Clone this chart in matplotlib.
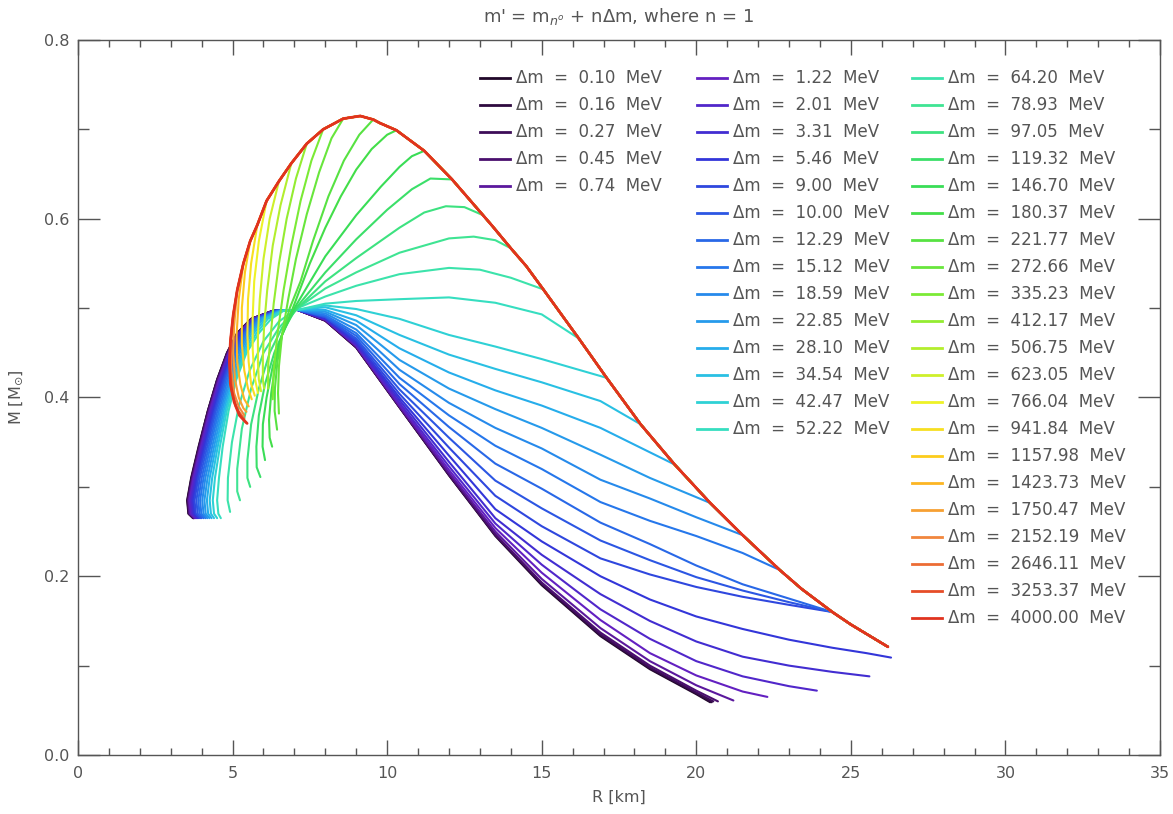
import matplotlib
matplotlib.use("Agg")
import matplotlib.pyplot as plt
from matplotlib.colors import LinearSegmentedColormap
from matplotlib.ticker import MultipleLocator

# mass splittings (MeV), one curve each
DM = [0.10, 0.16, 0.27, 0.45, 0.74, 1.22, 2.01, 3.31, 5.46, 9.00,
      10.00, 12.29, 15.12, 18.59, 22.85, 28.10, 34.54, 42.47, 52.22, 64.20,
      78.93, 97.05, 119.32, 146.70, 180.37, 221.77, 272.66, 335.23, 412.17, 506.75,
      623.05, 766.04, 941.84, 1157.98, 1423.73, 1750.47, 2152.19, 2646.11, 3253.37, 4000.00]

# envelope curve (largest splitting), starting at the low-density end
ENV_R = [26.2, 25.0, 24.4, 23.4, 22.7, 21.5, 20.45, 19.3, 18.2, 17.1,
         16.2, 15.05, 14.5, 14.0, 13.4, 13.1, 12.6, 12.1, 11.2, 10.3,
         9.77, 9.55, 9.13, 8.58, 7.93, 7.4, 6.9, 6.5, 6.1, 5.8,
         5.57, 5.35, 5.15, 5.02, 4.93, 4.9, 4.93, 5.05, 5.22, 5.47]
ENV_M = [0.121, 0.146, 0.160, 0.186, 0.207, 0.246, 0.282, 0.325, 0.370, 0.422,
         0.466, 0.521, 0.547, 0.567, 0.592, 0.604, 0.624, 0.644, 0.676, 0.699,
         0.707, 0.711, 0.715, 0.712, 0.700, 0.684, 0.662, 0.642, 0.620, 0.593,
         0.575, 0.550, 0.520, 0.492, 0.463, 0.440, 0.415, 0.395, 0.380, 0.371]

# index of the envelope point where each curve leaves it (None: never on it)
SPLIT = [None] * 9 + [2, 2, 2, 4, 5, 6, 7, 8, 9, 10,
                      11, 13, 15, 17, 18, 19, 21, 23, 24, 25,
                      26, 27, 28, 29, 30, 31, 32, 33, 34, 35, 39]

# low-density ends of the curves that never touch the envelope
LOW_END_R = [20.45, 20.5, 20.55, 20.7, 21.2, 22.3, 23.9, 25.6, 26.3]
LOW_END_M = [0.059, 0.059, 0.060, 0.060, 0.061, 0.065, 0.072, 0.088, 0.109]

# radius columns of the outer branch, and M there for the first 19 curves
COL_R = [25.5, 24.4, 23.0, 21.5, 20.0, 18.5, 16.9, 15.0, 13.5, 12.0, 10.4, 9.0, 8.0]
LOW_M = [
    [None, None, None, None, 0.068, 0.096, 0.133, 0.190, 0.245, 0.313, 0.389, 0.456, 0.486],
    [None, None, None, None, 0.069, 0.097, 0.134, 0.191, 0.246, 0.313, 0.389, 0.456, 0.486],
    [None, None, None, None, 0.070, 0.098, 0.135, 0.192, 0.246, 0.314, 0.389, 0.456, 0.486],
    [None, None, None, None, 0.072, 0.100, 0.137, 0.193, 0.247, 0.314, 0.390, 0.457, 0.486],
    [None, None, None, None, 0.078, 0.105, 0.142, 0.197, 0.250, 0.316, 0.390, 0.457, 0.487],
    [None, None, None, 0.071, 0.089, 0.114, 0.151, 0.204, 0.254, 0.319, 0.392, 0.458, 0.487],
    [None, None, 0.077, 0.088, 0.105, 0.130, 0.163, 0.213, 0.259, 0.323, 0.394, 0.459, 0.488],
    [None, 0.093, 0.100, 0.110, 0.127, 0.150, 0.180, 0.224, 0.265, 0.328, 0.397, 0.460, 0.488],
    [0.114, 0.120, 0.129, 0.141, 0.155, 0.174, 0.200, 0.239, 0.275, 0.335, 0.400, 0.462, 0.489],
    [None, None, 0.168, 0.177, 0.188, 0.202, 0.220, 0.256, 0.290, 0.344, 0.404, 0.464, 0.490],
    [None, None, 0.171, 0.184, 0.199, 0.218, 0.240, 0.276, 0.307, 0.355, 0.409, 0.466, 0.490],
    [None, None, 0.175, 0.191, 0.212, 0.236, 0.260, 0.298, 0.326, 0.367, 0.415, 0.469, 0.491],
    [None, None, None, 0.226, 0.245, 0.262, 0.283, 0.320, 0.346, 0.380, 0.422, 0.472, 0.492],
    [None, None, None, None, 0.266, 0.287, 0.308, 0.343, 0.366, 0.394, 0.431, 0.476, 0.494],
    [None, None, None, None, None, 0.310, 0.336, 0.366, 0.387, 0.410, 0.442, 0.481, 0.496],
    [None, None, None, None, None, None, 0.366, 0.391, 0.408, 0.428, 0.455, 0.486, 0.498],
    [None, None, None, None, None, None, 0.396, 0.417, 0.432, 0.448, 0.470, 0.492, 0.501],
    [None, None, None, None, None, None, None, 0.443, 0.457, 0.470, 0.488, 0.499, 0.503],
    [None, None, None, None, None, None, None, 0.493, 0.506, 0.512, 0.510, 0.508, 0.505],
]

# crossing point of the low-splitting curves
CROSS_R, CROSS_M = 7.1, 0.498

# inner (high-density) branch of the first 19 curves: R at fixed M levels
TURN_M = [0.497, 0.488, 0.472, 0.450, 0.420, 0.385, 0.345, 0.310, 0.285, 0.270, 0.265]
TURN_R = [
    [6.30, 5.60, 5.15, 4.82, 4.50, 4.20, 3.90, 3.66, 3.53, 3.57, 3.72],
    [6.30, 5.60, 5.15, 4.82, 4.50, 4.20, 3.91, 3.67, 3.54, 3.58, 3.73],
    [6.30, 5.61, 5.16, 4.83, 4.51, 4.21, 3.92, 3.68, 3.55, 3.59, 3.74],
    [6.31, 5.62, 5.17, 4.84, 4.52, 4.22, 3.93, 3.69, 3.56, 3.60, 3.75],
    [6.32, 5.63, 5.19, 4.86, 4.54, 4.24, 3.95, 3.71, 3.58, 3.62, 3.77],
    [6.33, 5.65, 5.21, 4.88, 4.57, 4.27, 3.98, 3.74, 3.61, 3.65, 3.80],
    [6.34, 5.67, 5.23, 4.90, 4.60, 4.30, 4.01, 3.77, 3.65, 3.69, 3.83],
    [6.35, 5.69, 5.26, 4.93, 4.63, 4.34, 4.05, 3.81, 3.69, 3.73, 3.87],
    [6.37, 5.71, 5.29, 4.96, 4.67, 4.38, 4.09, 3.85, 3.73, 3.77, 3.91],
    [6.39, 5.74, 5.32, 5.00, 4.71, 4.42, 4.13, 3.89, 3.77, 3.81, 3.95],
    [6.41, 5.77, 5.36, 5.04, 4.75, 4.46, 4.18, 3.94, 3.83, 3.87, 4.00],
    [6.43, 5.80, 5.40, 5.08, 4.79, 4.51, 4.23, 4.00, 3.89, 3.93, 4.06],
    [6.46, 5.84, 5.45, 5.13, 4.84, 4.56, 4.28, 4.06, 3.95, 3.99, 4.12],
    [6.49, 5.88, 5.50, 5.18, 4.89, 4.61, 4.34, 4.12, 4.02, 4.06, 4.18],
    [6.52, 5.93, 5.56, 5.24, 4.94, 4.66, 4.40, 4.19, 4.09, 4.13, 4.25],
    [6.55, 5.99, 5.62, 5.30, 4.99, 4.71, 4.46, 4.26, 4.17, 4.21, 4.32],
    [6.58, 6.06, 5.69, 5.35, 5.04, 4.76, 4.52, 4.34, 4.26, 4.30, 4.40],
    [6.61, 6.14, 5.77, 5.40, 5.08, 4.81, 4.59, 4.43, 4.36, 4.40, 4.50],
    [6.65, 6.25, 5.85, 5.45, 5.12, 4.87, 4.68, 4.56, 4.50, 4.54, 4.62],
]

# curves 64.20 ... 3253.37 MeV after they leave the envelope
HIGH_R = [
    [14.0, 13.0, 12.0, 10.4, 9.0, 8.0, 7.1, 6.5, 6.0, 5.55, 5.2, 4.98, 4.85, 4.84, 4.92],
    [13.5, 12.8, 12.0, 10.4, 9.0, 8.0, 7.1, 6.5, 6.0, 5.6, 5.3, 5.15, 5.15, 5.24],
    [12.5, 11.9, 11.2, 10.4, 9.0, 8.0, 7.1, 6.6, 6.2, 5.85, 5.6, 5.48, 5.48, 5.57],
    [11.4, 10.8, 10.0, 9.0, 8.0, 7.05, 6.7, 6.35, 6.05, 5.85, 5.77, 5.78, 5.9],
    [10.8, 10.4, 9.8, 9.0, 8.0, 7.0, 6.6, 6.3, 6.1, 5.98, 5.97, 6.05],
    [10.0, 9.5, 9.0, 8.5, 8.0, 7.5, 6.95, 6.6, 6.4, 6.25, 6.18, 6.2, 6.28],
    [9.1, 8.6, 8.1, 7.6, 7.2, 6.85, 6.6, 6.45, 6.37, 6.36, 6.44],
    [8.2, 7.8, 7.4, 7.05, 6.8, 6.6, 6.5, 6.47, 6.5],
    [7.55, 7.2, 6.9, 6.65, 6.45, 6.33, 6.3],
    [7.05, 6.75, 6.5, 6.33, 6.22, 6.15, 6.15],
    [6.55, 6.3, 6.12, 6.02, 5.98, 5.98, 6.02],
    [6.2, 6.0, 5.88, 5.82, 5.82, 5.85, 5.92],
    [5.85, 5.7, 5.65, 5.65, 5.7, 5.82],
    [5.6, 5.5, 5.48, 5.52, 5.6, 5.72],
    [5.4, 5.3, 5.3, 5.38, 5.5, 5.62],
    [5.2, 5.13, 5.15, 5.25, 5.38, 5.52],
    [5.05, 5.02, 5.08, 5.2, 5.35, 5.45],
    [4.96, 4.96, 5.05, 5.2, 5.38],
    [4.92, 5.0, 5.15, 5.38],
    [4.95, 5.1, 5.28, 5.43],
]
HIGH_M = [
    [0.534, 0.543, 0.545, 0.538, 0.525, 0.513, 0.500, 0.485, 0.463, 0.430, 0.390, 0.350, 0.310, 0.285, 0.272],
    [0.576, 0.580, 0.578, 0.562, 0.540, 0.522, 0.500, 0.478, 0.450, 0.410, 0.365, 0.320, 0.295, 0.285],
    [0.613, 0.614, 0.607, 0.590, 0.556, 0.530, 0.500, 0.478, 0.450, 0.410, 0.370, 0.330, 0.310, 0.300],
    [0.645, 0.633, 0.610, 0.577, 0.540, 0.500, 0.478, 0.450, 0.415, 0.380, 0.345, 0.322, 0.311],
    [0.670, 0.658, 0.636, 0.604, 0.558, 0.500, 0.470, 0.435, 0.400, 0.370, 0.345, 0.330],
    [0.694, 0.678, 0.655, 0.625, 0.590, 0.550, 0.500, 0.470, 0.440, 0.405, 0.375, 0.355, 0.345],
    [0.694, 0.665, 0.625, 0.575, 0.530, 0.500, 0.470, 0.440, 0.410, 0.385, 0.364],
    [0.690, 0.652, 0.605, 0.555, 0.510, 0.470, 0.435, 0.405, 0.382],
    [0.665, 0.620, 0.570, 0.520, 0.470, 0.430, 0.398],
    [0.645, 0.600, 0.550, 0.505, 0.465, 0.435, 0.410],
    [0.615, 0.570, 0.520, 0.480, 0.445, 0.420, 0.410],
    [0.600, 0.555, 0.510, 0.470, 0.440, 0.420, 0.407],
    [0.575, 0.530, 0.490, 0.455, 0.425, 0.405],
    [0.550, 0.510, 0.470, 0.440, 0.415, 0.402],
    [0.540, 0.500, 0.460, 0.430, 0.410, 0.398],
    [0.510, 0.470, 0.440, 0.415, 0.398, 0.390],
    [0.480, 0.450, 0.420, 0.400, 0.388, 0.384],
    [0.460, 0.430, 0.405, 0.390, 0.380],
    [0.430, 0.405, 0.387, 0.376],
    [0.410, 0.390, 0.378, 0.372],
]

# black -> purple -> blue -> cyan -> green -> yellow -> red
rainbow = LinearSegmentedColormap.from_list("rainbow_idl", [
    (0.00, (0.13, 0.03, 0.16)),
    (0.08, (0.30, 0.06, 0.45)),
    (0.12, (0.40, 0.12, 0.75)),
    (0.20, (0.20, 0.20, 0.85)),
    (0.30, (0.15, 0.45, 0.92)),
    (0.40, (0.15, 0.72, 0.92)),
    (0.45, (0.20, 0.86, 0.80)),
    (0.50, (0.25, 0.90, 0.62)),
    (0.60, (0.22, 0.86, 0.30)),
    (0.70, (0.50, 0.92, 0.20)),
    (0.80, (0.95, 0.95, 0.15)),
    (0.86, (1.00, 0.76, 0.10)),
    (0.92, (0.95, 0.55, 0.25)),
    (1.00, (0.88, 0.20, 0.12)),
])
n = len(DM)
colors = [rainbow(i / (n - 1)) for i in range(n)]

grey = "#555555"
plt.rcParams["font.family"] = "DejaVu Sans"

fig = plt.figure(figsize=(11.73, 8.14), dpi=100)
ax = fig.add_axes([78 / 1173, 59 / 814, 1082 / 1173, 715 / 814])

for i in range(n):
    rs, ms = [], []
    if SPLIT[i] is None:
        rs.append(LOW_END_R[i])
        ms.append(LOW_END_M[i])
    else:
        rs += ENV_R[:SPLIT[i] + 1]
        ms += ENV_M[:SPLIT[i] + 1]
    if i < len(LOW_M):
        for r, m in zip(COL_R, LOW_M[i]):
            if m is not None:
                rs.append(r)
                ms.append(m)
        rs.append(CROSS_R)
        ms.append(CROSS_M)
        rs += TURN_R[i]
        ms += TURN_M
    elif i < n - 1:
        rs += HIGH_R[i - len(LOW_M)]
        ms += HIGH_M[i - len(LOW_M)]
    lw = 2.0 if i == n - 1 else 1.5
    ax.plot(rs, ms, color=colors[i], lw=lw, solid_capstyle="round", solid_joinstyle="round")

ax.set_xlim(0, 35)
ax.set_ylim(0, 0.8)
ax.xaxis.set_major_locator(MultipleLocator(5))
ax.xaxis.set_minor_locator(MultipleLocator(1))
ax.yaxis.set_major_locator(MultipleLocator(0.2))
ax.yaxis.set_minor_locator(MultipleLocator(0.1))
ax.xaxis.set_major_formatter(plt.FuncFormatter(lambda v, p: f"{v:.0f}"))
ax.yaxis.set_major_formatter(plt.FuncFormatter(lambda v, p: f"{v:.1f}"))
ax.tick_params(axis="both", which="both", direction="in", top=True, right=True,
               colors=grey, labelcolor=grey, labelsize=11.5, width=1.0)
ax.tick_params(axis="x", which="major", length=11, pad=8)
ax.tick_params(axis="x", which="minor", length=5)
ax.tick_params(axis="y", which="major", length=16, pad=6)
ax.tick_params(axis="y", which="minor", length=8)
for sp in ax.spines.values():
    sp.set_color(grey)
    sp.set_linewidth(1.0)

ax.set_xlabel("R [km]", color=grey, fontsize=11.5, labelpad=6)
ax.set_ylabel(r"M [M$_{\odot}$]", color=grey, fontsize=11.5, labelpad=14)
ax.set_title(r"m' = m$_{n^{o}}$ + n$\Delta$m, where n = 1", color=grey, fontsize=13, pad=13)

# legend: three columns of 5, 14 and 21 entries
columns = [(0, 5, 480), (5, 19, 697), (19, 40, 912)]
for start, stop, px in columns:
    for row, i in enumerate(range(start, stop)):
        py = 78 + 27 * row
        y = (755 - py) / 715
        x0 = (px - 78) / 1082
        x1 = (px + 30 - 78) / 1082
        ax.plot([x0, x1], [y, y], transform=ax.transAxes, color=colors[i], lw=2.0,
                clip_on=False)
        ax.text((px + 36 - 78) / 1082, y, f"\u0394m  =  {DM[i]:.2f}  MeV", transform=ax.transAxes,
                color=grey, fontsize=12, va="center", ha="left")

fig.savefig("out.png", dpi=100)
